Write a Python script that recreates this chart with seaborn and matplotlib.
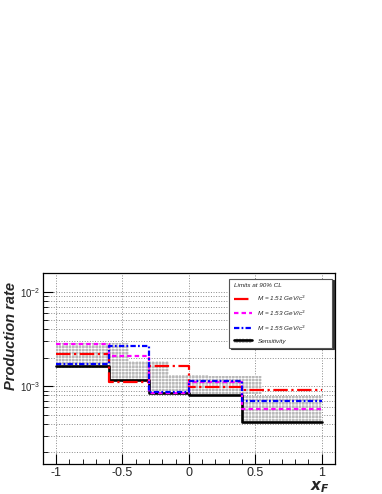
import numpy as np
import pandas as pd
import matplotlib as mpl
import matplotlib.pyplot as plt
from matplotlib.lines import Line2D
from matplotlib.patches import Patch
from matplotlib.ticker import LogLocator, NullFormatter, MultipleLocator, FixedLocator
import seaborn as sns

# bin edges in x_F and the values
edges = [-1.0, -0.6, -0.3, 0.0, 0.4, 1.0]
sensitivity = [1.63e-3, 1.16e-3, 8.4e-4, 8.0e-4, 4.2e-4]
band_low = [1.58e-3, 1.17e-3, 8.5e-4, 8.2e-4, 4.1e-4]
band_high = [2.9e-3, 1.84e-3, 1.33e-3, 1.28e-3, 7.8e-4]
limit_151 = [2.22e-3, 1.12e-3, 1.66e-3, 9.8e-4, 9.1e-4]
limit_153 = [2.79e-3, 2.11e-3, 8.5e-4, 1.12e-3, 5.7e-4]
limit_155 = [1.74e-3, 2.70e-3, 8.6e-4, 1.14e-3, 7.0e-4]
masses = ["1.51", "1.53", "1.55"]

sns.set_style("ticks")
plt.rcParams["font.family"] = ["Liberation Sans", "DejaVu Sans"]
plt.rcParams["hatch.color"] = "#707070"
plt.rcParams["hatch.linewidth"] = 0.5

# long table for the step lines (last value repeated for steps-post)
rows = []
for m, vals in zip(masses, [limit_151, limit_153, limit_155]):
    for x, v in zip(edges, vals + [vals[-1]]):
        rows.append({"xF": x, "rate": v, "series": m})
lim_df = pd.DataFrame(rows)
sens_df = pd.DataFrame({"xF": edges, "rate": sensitivity + [sensitivity[-1]]})

fig = plt.figure(figsize=(3.82, 4.94), dpi=100)
ax = fig.add_axes([0.112, 0.0607, 0.765, 0.3873])
ax.set_yscale("log")

# grey hatched sensitivity band (ROOT draws each box a bit past the bin edge)
band_face = "#b9b9b9"
lo = np.array(edges[:-1])
hi = np.minimum(np.array(edges[1:]) + 0.15, 1.0)
ax.bar(lo, np.array(band_high) - np.array(band_low), width=hi - lo,
       bottom=band_low, align="edge", color=band_face, hatch="+++++",
       linewidth=0, zorder=2)

sns.lineplot(data=sens_df, x="xF", y="rate", color="black", linewidth=1.9,
             drawstyle="steps-post", estimator=None, sort=False,
             legend=False, ax=ax, zorder=3)

pal = {"1.51": "#ff0000", "1.53": "#ff00ff", "1.55": "#0000ff"}
dash = {"1.51": (6.5, 1.6, 1, 1.6), "1.53": (2, 1.4), "1.55": (2.4, 1, 0.8, 1)}
sns.lineplot(data=lim_df, x="xF", y="rate", hue="series", style="series",
             hue_order=masses, style_order=masses, palette=pal, dashes=dash,
             linewidth=1.6, drawstyle="steps-post", estimator=None,
             sort=False, legend=False, ax=ax, zorder=4)

ax.set_xlim(-1.1, 1.1)
ax.set_ylim(1.5e-4, 1.6e-2)
ax.xaxis.set_major_locator(FixedLocator([-1, -0.5, 0, 0.5, 1]))
ax.set_xticklabels(["-1", "-0.5", "0", "0.5", "1"])
ax.xaxis.set_minor_locator(MultipleLocator(0.1))
ax.yaxis.set_major_locator(LogLocator(base=10))
ax.yaxis.set_minor_locator(LogLocator(base=10, subs=range(2, 10)))
ax.yaxis.set_minor_formatter(NullFormatter())
ax.tick_params(which="both", direction="in", top=False, right=False,
               color="black")
ax.tick_params(axis="x", labelsize=9, pad=2)
ax.tick_params(axis="y", labelsize=7, pad=2)
ax.tick_params(which="major", length=7, width=0.8)
ax.tick_params(which="minor", length=3.5, width=0.6)

ax.grid(True, which="major", axis="x", color="#8a8a8a", linestyle=":", linewidth=0.7)
ax.grid(True, which="both", axis="y", color="#8a8a8a", linestyle=":", linewidth=0.7)
ax.set_axisbelow(True)
for s in ax.spines.values():
    s.set_linewidth(0.9)
    s.set_color("black")
ax.set_xlabel("")
ax.set_ylabel("")

fig.text(0.030, 0.32, "Production rate", rotation=90, ha="center",
         va="center", fontsize=10.5, fontweight="bold", fontstyle="italic")
fig.text(0.862, 0.014, r"$\mathbfit{x}_{\mathbfit{F}}$", ha="right",
         va="center", fontsize=11)

handles = [
    Line2D([], [], color=pal["1.51"], linewidth=1.6, linestyle=(0, dash["1.51"])),
    Line2D([], [], color=pal["1.53"], linewidth=1.6, linestyle=(0, dash["1.53"])),
    Line2D([], [], color=pal["1.55"], linewidth=1.6, linestyle=(0, dash["1.55"])),
    (Patch(facecolor=band_face, hatch="+++++", linewidth=0),
     Line2D([], [], color="black", linewidth=1.9)),
]
labels = [r"M = 1.51 GeV/c$^2$", r"M = 1.53 GeV/c$^2$",
          r"M = 1.55 GeV/c$^2$", "Sensitivity"]
leg = ax.legend(handles, labels, title="Limits at 90% CL",
                loc="upper left", bbox_to_anchor=(0.638, 0.967, 0.353, 0.0),
                mode="expand", title_fontsize=4.6,
                prop={"style": "italic", "size": 4.6},
                alignment="left", handlelength=2.9, handletextpad=0.8,
                labelspacing=0.85, borderpad=0.7, borderaxespad=0,
                fancybox=False, framealpha=1, edgecolor="#555555",
                shadow={"color": "#333333", "alpha": 1, "ox": 1.0, "oy": -1.0})
leg.get_title().set_fontstyle("italic")
leg.get_frame().set_linewidth(0.8)

fig.savefig("out.png", dpi=100)
